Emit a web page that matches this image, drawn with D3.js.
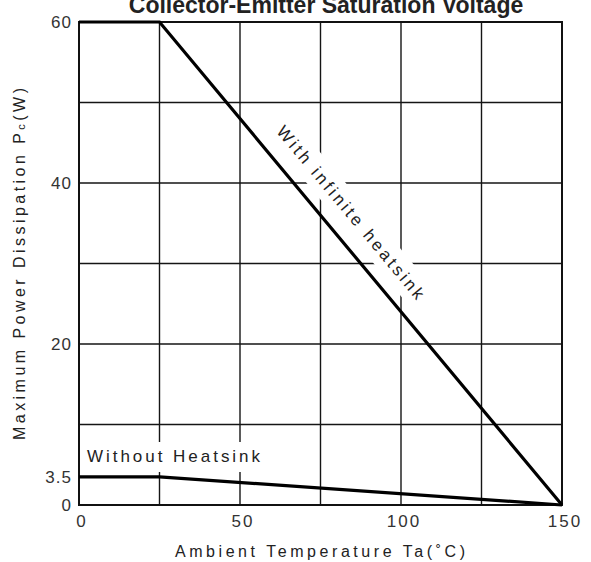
<!DOCTYPE html>
<html>
<head>
<meta charset="utf-8">
<script src="https://cdn.jsdelivr.net/npm/d3@7"></script>
<style>
  body { margin: 0; background: #fff; }
  svg { display: block; font-family: Arial, "Liberation Sans", sans-serif; }
</style>
</head>
<body>
<svg id="chart" width="591" height="562"></svg>
<script>
// values
var tempTicks = [0, 50, 100, 150];
var powerTicks = [60, 40, 20, 3.5, 0];
var gridTemps = [0, 25, 50, 75, 100, 125, 150];
var gridPowers = [0, 10, 20, 30, 40, 50, 60];

var infiniteTemp = [0, 25, 150];
var infinitePower = [60, 60, 0];
var noSinkTemp = [0, 25, 150];
var noSinkPower = [3.5, 3.5, 0];

var svg = d3.select('#chart');

var x = d3.scaleLinear().domain([0, 150]).range([79, 562]);
var y = d3.scaleLinear().domain([0, 60]).range([505, 22]);

// grid
var grid = svg.append('g').attr('stroke', '#151515').attr('stroke-width', 1.4);
grid.selectAll('line.v').data(gridTemps).enter().append('line')
    .attr('x1', function(d) { return x(d); }).attr('x2', function(d) { return x(d); })
    .attr('y1', y(0)).attr('y2', y(60));
grid.selectAll('line.h').data(gridPowers).enter().append('line')
    .attr('y1', function(d) { return y(d); }).attr('y2', function(d) { return y(d); })
    .attr('x1', x(0)).attr('x2', x(150));

// white boxes behind the curve labels cut the grid
svg.append('rect').attr('x', x(0) + 2).attr('y', 442).attr('width', 190).attr('height', 30).attr('fill', '#fff');

var ang = Math.atan2(y(0) - y(60), x(150) - x(25)) * 180 / Math.PI;
var footT = 78.4;
var fx = x(footT), fy = y(60 - (footT - 25) * 60 / 125);
var rad = ang * Math.PI / 180;
var cx = fx + 25 * Math.sin(rad), cy = fy - 25 * Math.cos(rad);
var lab = svg.append('g').attr('transform', 'translate(' + cx + ',' + cy + ') rotate(' + ang + ')');
lab.append('rect').attr('x', -122).attr('y', -15).attr('width', 244).attr('height', 30).attr('fill', '#fff');
lab.append('text').attr('text-anchor', 'middle').attr('dy', '0.35em')
    .attr('font-size', 17).attr('fill', '#222')
    .attr('textLength', 220).attr('lengthAdjust', 'spacing')
    .text('With infinite heatsink');

// frame
svg.append('rect').attr('x', x(0)).attr('y', y(60))
    .attr('width', x(150) - x(0)).attr('height', y(0) - y(60))
    .attr('fill', 'none').attr('stroke', '#111').attr('stroke-width', 2);

// curves
var line = d3.line().x(function(d) { return x(d[0]); }).y(function(d) { return y(d[1]); });
svg.append('path').datum(d3.zip(infiniteTemp, infinitePower)).attr('d', line)
    .attr('fill', 'none').attr('stroke', '#000').attr('stroke-width', 3.2);
svg.append('path').datum(d3.zip(noSinkTemp, noSinkPower)).attr('d', line)
    .attr('fill', 'none').attr('stroke', '#000').attr('stroke-width', 3.2);

svg.append('text').attr('x', 87).attr('y', 462)
    .attr('font-size', 17).attr('fill', '#222')
    .attr('textLength', 173).attr('lengthAdjust', 'spacing')
    .text('Without Heatsink');

// tick labels
svg.selectAll('text.ytick').data(powerTicks).enter().append('text')
    .attr('class', 'ytick')
    .attr('x', 72).attr('y', function(d) { return y(d); }).attr('dy', '0.35em')
    .attr('text-anchor', 'end').attr('font-size', 17).attr('fill', '#333')
    .attr('letter-spacing', 1)
    .text(function(d) { return d; });
svg.selectAll('text.xtick').data(tempTicks).enter().append('text')
    .attr('class', 'xtick')
    .attr('x', function(d) { return x(d) + 3; }).attr('y', 527)
    .attr('text-anchor', 'middle').attr('font-size', 17).attr('fill', '#333')
    .attr('letter-spacing', 2)
    .text(function(d) { return d; });

// axis titles
var xt = svg.append('text').attr('x', 175).attr('y', 557)
    .attr('font-size', 16).attr('fill', '#222')
    .attr('textLength', 290).attr('lengthAdjust', 'spacing');
xt.text('Ambient Temperature Ta(\u02daC)');

var yt = svg.append('text').attr('transform', 'translate(25,440) rotate(-90)')
    .attr('font-size', 16).attr('fill', '#222')
    .attr('textLength', 352).attr('lengthAdjust', 'spacing');
yt.append('tspan').text('Maximum Power Dissipation P');
yt.append('tspan').attr('font-size', 11).text('c');
yt.append('tspan').text('(W)');

// title, cut off at the top like the source
svg.append('text').attr('x', 326).attr('y', 13)
    .attr('text-anchor', 'middle').attr('font-size', 23).attr('font-weight', 'bold')
    .attr('fill', '#222')
    .text('Collector-Emitter Saturation Voltage');
</script>
</body>
</html>
